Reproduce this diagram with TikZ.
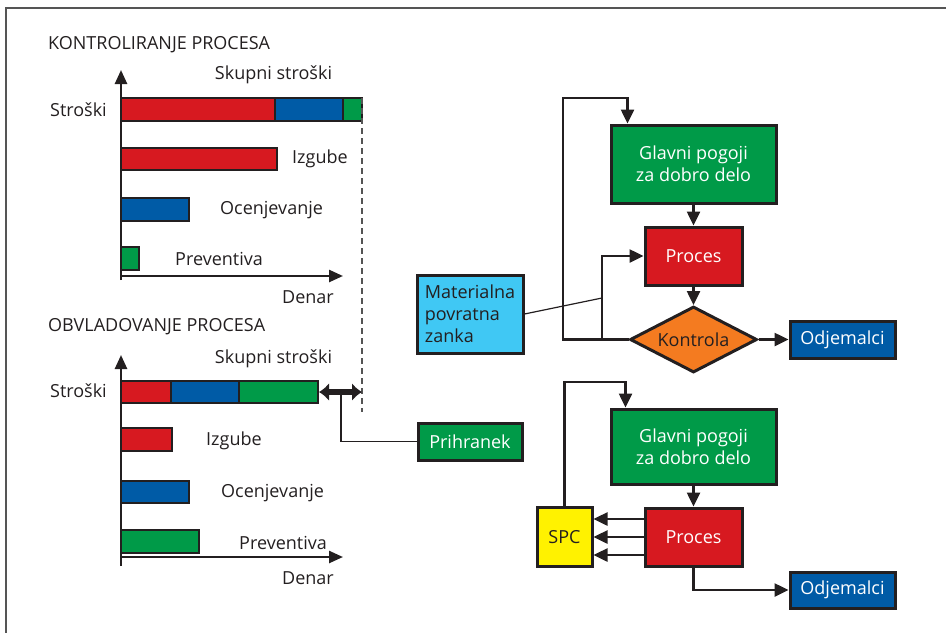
\documentclass[tikz,border=0pt]{standalone}
\usepackage{fontspec}
\setmainfont{Open Sans}
\usetikzlibrary{arrows.meta,positioning,shapes.geometric}
\definecolor{kred}{RGB}{215,25,32}
\definecolor{kblue}{RGB}{0,91,166}
\definecolor{kgreen}{RGB}{0,154,72}
\definecolor{ksky}{RGB}{64,200,244}
\definecolor{korange}{RGB}{244,123,32}
\definecolor{kyellow}{RGB}{255,242,0}
\definecolor{kframe}{RGB}{85,85,85}
\definecolor{kink}{RGB}{35,31,32}

\begin{document}
\begin{tikzpicture}[x=1pt, y=-1pt,
  font=\fontsize{18}{22}\selectfont,
  bar/.style={draw=kink, line width=2.5pt},
  box/.style={draw=kink, line width=3pt, align=center, inner sep=0pt, text=white},
  lbl/.style={inner sep=0pt, text=kink},
  arr/.style={-{Triangle[length=14pt,width=13pt]}, line width=2.5pt, draw=kink},
  axis/.style={-{Triangle[length=14pt,width=12pt]}, line width=2.5pt, draw=kink},
  fine/.style={line width=1.2pt, draw=kink}
]
\useasboundingbox (0,0) rectangle (946,633);
\draw[kframe, line width=2pt] (946,8) -- (6,8) -- (6,633);

% kontroliranje procesa
\node[lbl, anchor=west] (titA) at (48,45) {KONTROLIRANJE PROCESA};
\coordinate (oA) at (121,276);
\draw[axis] ([yshift=-4pt]oA) -- (121,70);
\draw[axis] (oA) -- (343,276);
\node[lbl] (sumA) at (273.5,75) {Skupni stroški};
\node[lbl, anchor=east] (costA) at (107,110) {Stroški};
\draw[bar, fill=kred] (121,98) rectangle (275,121);
\draw[bar, fill=kblue] (275,98) rectangle (343,121);
\draw[bar, fill=kgreen] (343,98) rectangle (362,121);
\draw[bar, fill=kred] (121,148) rectangle (277,170);
\node[lbl, anchor=west] (lossA) at (292,159) {Izgube};
\draw[bar, fill=kblue] (121,198) rectangle (189,221);
\node[lbl, anchor=west] (evalA) at (220,210) {Ocenjevanje};
\draw[bar, fill=kgreen] (121,247) rectangle (139,270);
\node[lbl, anchor=west] (prevA) at (175,259) {Preventiva};
\node[lbl, anchor=west] (denA) at (282,297) {Denar};
\draw[kframe, line width=1.5pt, dash pattern=on 6pt off 4pt] (362,98) -- (362,412);

% obvladovanje procesa
\node[lbl, anchor=west] (titB) at (48,327) {OBVLADOVANJE PROCESA};
\coordinate (oB) at (121,557);
\draw[axis] ([yshift=-9pt]oB) -- (121,355);
\draw[axis] (oB) -- (343,557);
\node[lbl] (sumB) at (273.5,359) {Skupni stroški};
\node[lbl, anchor=east] (costB) at (107,391) {Stroški};
\draw[bar, fill=kred] (121,381) rectangle (171,403);
\draw[bar, fill=kblue] (171,381) rectangle (239,403);
\draw[bar, fill=kgreen] (239,381) rectangle (318,403);
\draw[bar, fill=kred] (121,428) rectangle (172,451);
\node[lbl, anchor=west] (lossB) at (206,441) {Izgube};
\draw[bar, fill=kblue] (121,481) rectangle (189,503);
\node[lbl, anchor=west] (evalB) at (221,493) {Ocenjevanje};
\draw[bar, fill=kgreen] (121,530) rectangle (199,553);
\node[lbl, anchor=west] (prevB) at (239,543) {Preventiva};
\node[lbl, anchor=west] (denB) at (282,578) {Denar};

\coordinate (gapL) at (319,392);
\coordinate (gapR) at (362,392);
\draw[kink, line width=6pt, {Latex[length=10pt,width=18pt]}-{Latex[length=10pt,width=18pt]}] (gapL) -- (gapR);
\node[box, fill=kgreen, minimum width=104pt, minimum height=37pt] (save) at (470,441.5) {Prihranek};
\coordinate (saveA) at (341,394);
\draw[fine] (saveA) |- (save.west);

% zgornja zanka
\node[box, fill=kgreen, minimum width=165pt, minimum height=78pt] (glavniA) at (693.5,164) {Glavni pogoji\\za dobro delo};
\node[box, fill=kred, minimum width=97pt, minimum height=58pt] (procesA) at (693.5,256) {Proces};
\node[box, diamond, aspect=1.92, fill=korange, text=kink, minimum width=127pt, minimum height=66pt] (kontrola) at (693.5,339.5) {Kontrola};
\node[box, fill=kblue, minimum width=105pt, minimum height=37pt] (odjA) at (842.5,339.5) {Odjemalci};
\node[box, fill=ksky, text=kink, align=left, minimum width=106pt, minimum height=78pt] (material) at (470,314) {Materialna\\povratna\\zanka};

\coordinate (loopA) at (563,98);
\coordinate (splitA) at (602,339.5);
\coordinate (tapA) at (602,298);
\draw[arr] (glavniA.south) -- (procesA.north);
\draw[arr] (procesA.south) -- (kontrola.north);
\draw[arr] (kontrola.east) -- (odjA.west);
\draw[arr] (kontrola.west) -| (loopA) -| ([xshift=18pt]glavniA.north west);
\draw[arr] (splitA) |- (procesA.west);
\draw[fine] (material.east) -- (tapA);

% spodnja zanka
\node[box, fill=kgreen, minimum width=165pt, minimum height=75pt] (glavniB) at (693.5,446.5) {Glavni pogoji\\za dobro delo};
\node[box, fill=kred, minimum width=97pt, minimum height=58pt] (procesB) at (693.5,537) {Proces};
\node[box, fill=kyellow, text=kink, minimum width=55pt, minimum height=59pt] (spc) at (564.5,537) {SPC};
\node[box, fill=kblue, minimum width=105pt, minimum height=36pt] (odjB) at (842.5,590) {Odjemalci};

\coordinate (loopB) at (564.5,382);
\draw[arr] (glavniB.south) -- (procesB.north);
\draw[arr] (spc.north) -- (loopB) -| ([xshift=16pt]glavniB.north west);
\foreach \dy in {-18,0,18}
  \draw[arr] ([yshift=\dy pt]procesB.west) -- ([yshift=\dy pt]spc.east);
\draw[arr] (procesB.south) |- (odjB.west);
\end{tikzpicture}
\end{document}
